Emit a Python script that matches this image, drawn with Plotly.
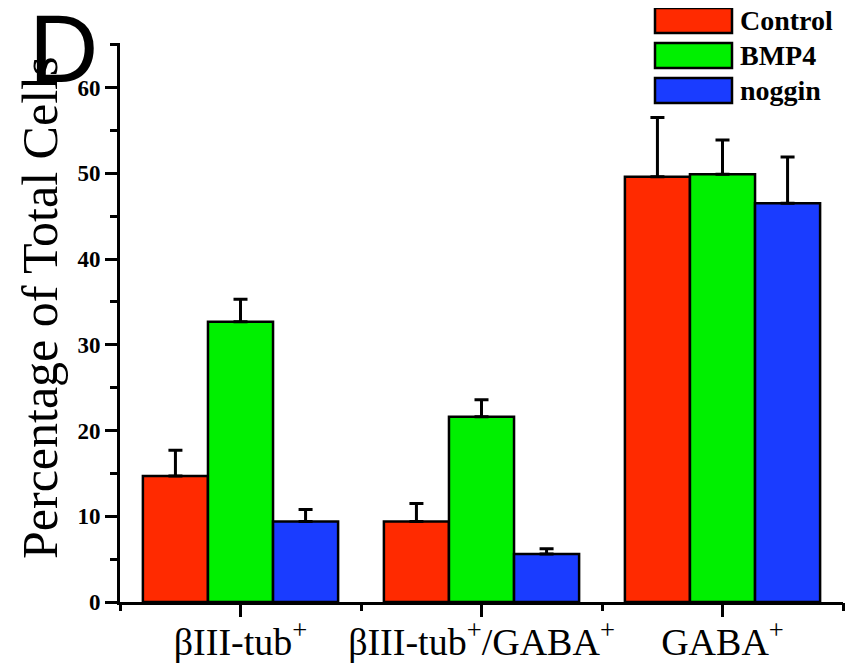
import plotly.graph_objects as go

categories = ["βIII-tub<sup>+</sup>", "βIII-tub<sup>+</sup>/GABA<sup>+</sup>", "GABA<sup>+</sup>"]
series_names = ["Control", "BMP4", "noggin"]
control = [14.7, 9.4, 49.6]
control_err = [3.0, 2.1, 6.9]
bmp4 = [32.7, 21.6, 49.9]
bmp4_err = [2.6, 2.0, 4.0]
noggin = [9.4, 5.6, 46.5]
noggin_err = [1.4, 0.6, 5.4]
colors = ["#FF2A00", "#00F000", "#1A3CFF"]
y_ticks = [0, 10, 20, 30, 40, 50, 60]

values = [control, bmp4, noggin]
errors = [control_err, bmp4_err, noggin_err]

fig = go.Figure()
for name, vals, errs, col in zip(series_names, values, errors, colors):
    fig.add_trace(go.Bar(
        x=categories, y=vals, name=name,
        marker=dict(color=col, line=dict(color="black", width=2.5)),
        error_y=dict(type="data", symmetric=False, array=errs,
                     arrayminus=[0] * len(errs), color="black",
                     thickness=3, width=7),
        showlegend=False,
    ))

# invisible helper trace so the boundary-tick axis has categories
fig.add_trace(go.Scatter(x=categories, y=[0] * len(categories), xaxis="x2",
                         mode="markers", marker=dict(opacity=0),
                         hoverinfo="skip", showlegend=False))

serif = "Liberation Serif, Times New Roman, serif"

fig.update_layout(
    width=849, height=661,
    margin=dict(l=112, r=14, t=35, b=67, autoexpand=False),
    paper_bgcolor="white", plot_bgcolor="white",
    barmode="group", bargap=0.19, bargroupgap=0,
    xaxis=dict(type="category", range=[-0.5, 2.5], showline=True,
               linecolor="black", linewidth=3, ticks="outside",
               ticklen=12, tickwidth=3, tickcolor="black",
               ticklabelstandoff=-8,
               tickfont=dict(family=serif, size=38, color="black"),
               showgrid=False, zeroline=False),
    xaxis2=dict(type="category", overlaying="x", matches="x", side="bottom",
                tickson="boundaries", ticks="outside", ticklen=8,
                tickwidth=3, tickcolor="black", showticklabels=False,
                showline=False, showgrid=False, zeroline=False),
    yaxis=dict(range=[0, 65.2], tickvals=y_ticks, showline=True,
               linecolor="black", linewidth=3, ticks="outside",
               ticklen=12, tickwidth=3, tickcolor="black",
               tickfont=dict(family=serif, size=23, color="black",
                             weight="bold"),
               minor=dict(dtick=5, ticklen=7, tickwidth=3,
                          tickcolor="black", ticks="outside"),
               showgrid=False, zeroline=False),
)

plot_w = 723
plot_h = 559

def px_x(x):
    return (x - 120) / plot_w

def px_y(y):
    return (602 - y) / plot_h

fig.add_annotation(text="Percentage of Total Cells", textangle=-90,
                   xref="paper", yref="paper", x=px_x(40), y=px_y(308),
                   xanchor="center", yanchor="middle", showarrow=False,
                   font=dict(family=serif, size=50, color="black"))

fig.add_annotation(text="D", xref="paper", yref="paper",
                   x=px_x(27), y=px_y(49), xanchor="left", yanchor="middle",
                   showarrow=False,
                   font=dict(family="Liberation Sans, Arial, sans-serif",
                             size=96, color="black"))

# custom legend (large swatches)
for i, (name, col) in enumerate(zip(series_names, colors)):
    top_px = 8 + i * 35
    bot_px = top_px + 25
    fig.add_shape(type="rect", xref="paper", yref="paper",
                  x0=px_x(655), x1=px_x(732), y0=px_y(bot_px), y1=px_y(top_px),
                  fillcolor=col, line=dict(color="black", width=2.5))
    fig.add_annotation(text="<b>%s</b>" % name, xref="paper", yref="paper",
                       x=px_x(738), y=px_y((top_px + bot_px) / 2),
                       xanchor="left", yanchor="middle", showarrow=False,
                       font=dict(family=serif, size=28, color="black"))

fig.write_html("out.html")
